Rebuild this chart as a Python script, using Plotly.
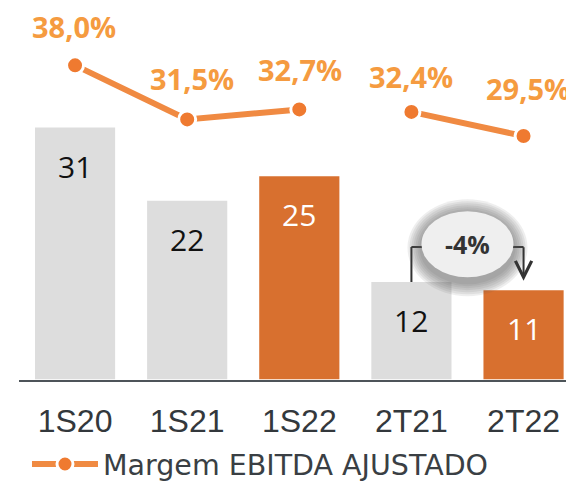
import plotly.graph_objects as go

# ---- data ----
categories = ["1S20", "1S21", "1S22", "2T21", "2T22"]
ebitda = [31, 22, 25, 12, 11]
bar_colors = ["#dddddd", "#dddddd", "#d8702f", "#dddddd", "#d8702f"]
bar_text_colors = ["#111111", "#111111", "#ffffff", "#111111", "#ffffff"]
margin_cats = ["1S20", "1S21", "1S22", None, "2T21", "2T22"]
margin_pct = [38.0, 31.5, 32.7, None, 32.4, 29.5]
legend_name = "Margem EBITDA AJUSTADO"
change_label = "-4%"
change_from, change_to = "2T21", "2T22"

# ---- style (label offsets in px) ----
pct_label_xshift = [-1, 5, 1, None, 0, 4]
pct_label_yshift = [39, 41, 40, None, 35, 48]

ORANGE_LINE = "#f08a42"
ORANGE_TEXT = "#f59b40"

fig = go.Figure()

fig.add_trace(go.Bar(
    x=categories, y=ebitda,
    marker=dict(color=bar_colors, line=dict(width=0)),
    showlegend=False, hoverinfo="skip",
))

fig.add_trace(go.Scatter(
    x=margin_cats, y=margin_pct, yaxis="y2",
    mode="lines+markers", name=legend_name,
    line=dict(color=ORANGE_LINE, width=6),
    marker=dict(color="#ef7a30", size=17, line=dict(color="white", width=3)),
    connectgaps=False, showlegend=True,
))

annotations = []
# bar value labels
for c, v, tc in zip(categories, ebitda, bar_text_colors):
    annotations.append(dict(
        x=c, y=v, xref="x", yref="y", text=str(v), showarrow=False,
        yanchor="top", yshift=-16,
        font=dict(family="Open Sans", size=30, color=tc),
    ))
# percent labels
for c, v, xs, ys in zip(margin_cats, margin_pct, pct_label_xshift, pct_label_yshift):
    if c is None:
        continue
    annotations.append(dict(
        x=c, y=v, xref="x", yref="y2",
        text=f"<b>{v:.1f}%</b>".replace(".", ","), showarrow=False,
        xshift=xs, yshift=ys,
        font=dict(family="Open Sans", size=29, color=ORANGE_TEXT),
    ))

i_from = categories.index(change_from)
i_to = categories.index(change_to)
level = max(ebitda[i_from], ebitda[i_to]) + 4.3
mid = (i_from + i_to) / 2

shapes = [
    # bracket
    dict(type="line", xref="x", yref="y", x0=i_from, x1=i_from,
         y0=ebitda[i_from], y1=level, line=dict(color="#333333", width=2)),
    dict(type="line", xref="x", yref="y", x0=i_from, x1=i_to,
         y0=level, y1=level, line=dict(color="#333333", width=2)),
]
# soft shadow behind the ellipse
for k in range(7):
    grow = 14 - 2 * k
    shapes.append(dict(type="circle", xref="x", yref="y",
                       xsizemode="pixel", ysizemode="pixel",
                       xanchor=mid, yanchor=level + 0.35,
                       x0=-46 - grow, x1=46 + grow,
                       y0=-33 - grow - 5, y1=33 + grow - 2,
                       fillcolor="#555555", opacity=0.1, line=dict(width=0)))
shapes.append(dict(type="circle", xref="x", yref="y",
                   xsizemode="pixel", ysizemode="pixel",
                   xanchor=mid, yanchor=level + 0.35,
                   x0=-46, x1=46, y0=-33, y1=33,
                   fillcolor="#efefef", line=dict(width=0)))

annotations.append(dict(
    x=mid, y=level + 0.35, xref="x", yref="y", text=f"<b>{change_label}</b>",
    showarrow=False, font=dict(family="Open Sans", size=25, color="#333333"),
))
# arrow down onto the second bar
annotations.append(dict(
    x=change_to, y=ebitda[i_to] + 1.15, xref="x", yref="y", text="",
    showarrow=True, arrowhead=5, arrowsize=1.6, arrowwidth=2,
    arrowcolor="#333333", ax=0, ay=-35,
))

fig.update_layout(
    width=566, height=476,
    margin=dict(l=11, r=0, t=0, b=100),
    paper_bgcolor="white", plot_bgcolor="white",
    bargap=0.285,
    xaxis=dict(
        type="category", range=[-0.5, 4.45],
        showline=True, linecolor="#4d5459", linewidth=2,
        showgrid=False, zeroline=False,
        ticks="outside", ticklen=12, tickcolor="rgba(0,0,0,0)",
        tickfont=dict(family="Liberation Sans", size=32, color="#33383c"),
    ),
    yaxis=dict(range=[0, 45.7], visible=False, showgrid=False, zeroline=False),
    yaxis2=dict(range=[0.23, 44.89], overlaying="y", visible=False,
                showgrid=False, zeroline=False),
    legend=dict(
        orientation="h", xref="paper", x=0.0144,
        yref="container", y=0.041, xanchor="left", yanchor="middle",
        itemwidth=66, font=dict(family="DejaVu Sans", size=28.5, color="#3a3f44"),
        bgcolor="rgba(0,0,0,0)",
    ),
    annotations=annotations,
    shapes=shapes,
)

fig.write_html("out.html")
